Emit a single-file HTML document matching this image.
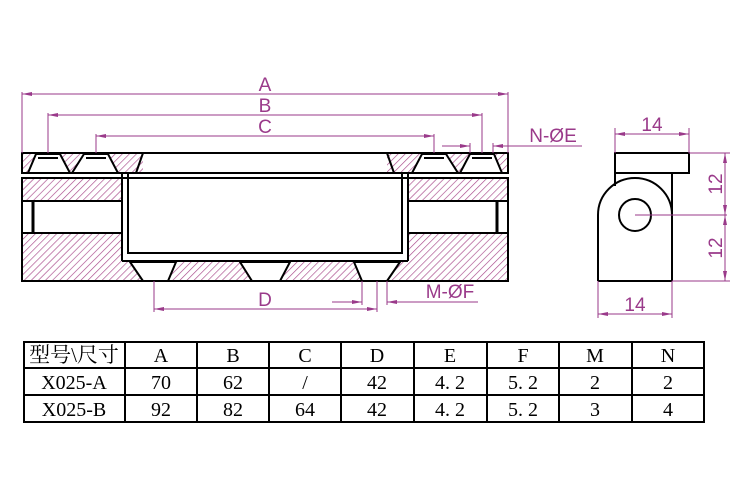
<!DOCTYPE html>
<html><head><meta charset="utf-8"><style>
html,body{margin:0;padding:0;background:#fff;width:750px;height:500px;overflow:hidden}
svg{display:block}
.d{stroke:#9a3a8a;stroke-width:1;fill:none}
.k{stroke:#000;stroke-width:2;fill:none}
.t{fill:#9a3a8a;font-family:"Liberation Sans",sans-serif;font-size:19px}
.tb{font-family:"Liberation Serif","Noto Serif CJK SC",serif;font-size:20px;fill:#000}
</style></head><body>
<svg width="750" height="500" viewBox="0 0 750 500" xmlns="http://www.w3.org/2000/svg">
<defs>
<pattern id="h" patternUnits="userSpaceOnUse" width="5" height="5" patternTransform="rotate(45)">
<line x1="0" y1="0" x2="0" y2="5" stroke="#a8488a" stroke-width="1.3"/>
</pattern>
<marker id="a" viewBox="0 0 10 6" refX="10" refY="3" markerWidth="10" markerHeight="6" orient="auto-start-reverse" markerUnits="userSpaceOnUse">
<path d="M0,1 L10,3 L0,5 Z" fill="#9a3a8a"/>
</marker>
</defs>

<g fill="url(#h)" stroke="none">
<rect x="22" y="153" width="121" height="20"/>
<rect x="387" y="153" width="121" height="20"/>
<rect x="22" y="178" width="100" height="23"/>
<rect x="408" y="178" width="100" height="23"/>
<rect x="22" y="233" width="100" height="48"/>
<rect x="408" y="233" width="100" height="48"/>
<rect x="122" y="261" width="286" height="20"/>
</g>
<g fill="#fff" stroke="#000" stroke-width="2">
<polygon points="36,154 60,154 70,173 28,173" />
<polygon points="84,154 108,154 118,173 72,173" />
<polygon points="494,154 470,154 460,173 502,173" />
<polygon points="446,154 422,154 412,173 458,173" />
<polygon points="130,262 176,262 168,281 143,281" />
<polygon points="240,262 290,262 280,281 252,281" />
<polygon points="354,262 400,262 387,281 362,281" />
</g>
<g class="k" stroke-width="1.5">
<line x1="38" y1="158" x2="58" y2="158"/><line x1="86" y1="158" x2="106" y2="158"/>
<line x1="472" y1="158" x2="492" y2="158"/><line x1="424" y1="158" x2="444" y2="158"/>
</g>
<g class="k">
<rect x="22" y="153" width="486" height="20"/>
<line x1="143" y1="153" x2="136" y2="173"/><line x1="387" y1="153" x2="394" y2="173"/>
<rect x="22" y="178" width="486" height="103"/>
<line x1="22" y1="201" x2="122" y2="201"/><line x1="22" y1="233" x2="122" y2="233"/>
<line x1="408" y1="201" x2="508" y2="201"/><line x1="408" y1="233" x2="508" y2="233"/>
<line x1="33" y1="201" x2="33" y2="233" stroke-width="3"/>
<line x1="497" y1="201" x2="497" y2="233" stroke-width="3"/>
<line x1="122" y1="173" x2="122" y2="261"/><line x1="408" y1="173" x2="408" y2="261"/>
<rect x="128" y="173" width="274" height="80"/>
<line x1="122" y1="261" x2="408" y2="261"/>
</g>
<g class="d">
<line x1="22" y1="92" x2="22" y2="153"/><line x1="508" y1="92" x2="508" y2="153"/>
<line x1="22" y1="94" x2="508" y2="94" marker-start="url(#a)" marker-end="url(#a)"/>
<line x1="48" y1="113" x2="48" y2="153"/><line x1="482" y1="113" x2="482" y2="153"/>
<line x1="48" y1="115" x2="482" y2="115" marker-start="url(#a)" marker-end="url(#a)"/>
<line x1="96" y1="134" x2="96" y2="153"/><line x1="434" y1="134" x2="434" y2="153"/>
<line x1="96" y1="136" x2="434" y2="136" marker-start="url(#a)" marker-end="url(#a)"/>
<line x1="442" y1="146" x2="470" y2="146" marker-end="url(#a)"/>
<line x1="470" y1="143" x2="470" y2="153"/><line x1="493" y1="143" x2="493" y2="153"/>
<line x1="582" y1="146" x2="493" y2="146" marker-end="url(#a)"/>
<line x1="154" y1="281" x2="154" y2="312"/><line x1="377" y1="281" x2="377" y2="312"/>
<line x1="154" y1="309" x2="377" y2="309" marker-start="url(#a)" marker-end="url(#a)"/>
<line x1="362" y1="281" x2="362" y2="305"/><line x1="387" y1="281" x2="387" y2="305"/>
<line x1="332" y1="302" x2="362" y2="302" marker-end="url(#a)"/>
<line x1="478" y1="302" x2="387" y2="302" marker-end="url(#a)"/>
</g>
<text class="t" x="265" y="91" text-anchor="middle">A</text>
<text class="t" x="265" y="112" text-anchor="middle">B</text>
<text class="t" x="265" y="133" text-anchor="middle">C</text>
<text class="t" x="265" y="306" text-anchor="middle">D</text>
<text class="t" x="553" y="142" text-anchor="middle">N-ØE</text>
<text class="t" x="450" y="298" text-anchor="middle">M-ØF</text>

<g class="k">
<rect x="615" y="153" width="74" height="20"/>
<line x1="615" y1="173" x2="615" y2="186"/>
<path d="M598,281 L598,215 A37,37 0 0 1 672,215 L672,173 M672,215 L672,281 Z"/>
<line x1="598" y1="281" x2="672" y2="281"/>
<circle cx="635" cy="215" r="16"/>
</g>
<g class="d">
<line x1="635" y1="215" x2="727" y2="215"/>
<line x1="615" y1="128" x2="615" y2="153"/><line x1="689" y1="128" x2="689" y2="153"/>
<line x1="615" y1="134" x2="689" y2="134" marker-start="url(#a)" marker-end="url(#a)"/>
<line x1="689" y1="153" x2="730" y2="153"/><line x1="672" y1="281" x2="730" y2="281"/>
<line x1="725" y1="153" x2="725" y2="215" marker-start="url(#a)" marker-end="url(#a)"/>
<line x1="725" y1="215" x2="725" y2="281" marker-start="url(#a)" marker-end="url(#a)"/>
<line x1="598" y1="281" x2="598" y2="318"/><line x1="672" y1="281" x2="672" y2="318"/>
<line x1="598" y1="314" x2="672" y2="314" marker-start="url(#a)" marker-end="url(#a)"/>
</g>
<text class="t" x="652" y="131" text-anchor="middle">14</text>
<text class="t" x="635" y="311" text-anchor="middle">14</text>
<text class="t" transform="translate(722,184) rotate(-90)" text-anchor="middle">12</text>
<text class="t" transform="translate(722,248) rotate(-90)" text-anchor="middle">12</text>

<g stroke="#000" stroke-width="2" fill="none">
<rect x="24" y="342" width="680" height="80"/>
<line x1="24" y1="368" x2="704" y2="368"/><line x1="24" y1="395" x2="704" y2="395"/>
<line x1="125" y1="342" x2="125" y2="422"/><line x1="197" y1="342" x2="197" y2="422"/>
<line x1="269" y1="342" x2="269" y2="422"/><line x1="341" y1="342" x2="341" y2="422"/>
<line x1="414" y1="342" x2="414" y2="422"/><line x1="487" y1="342" x2="487" y2="422"/>
<line x1="559" y1="342" x2="559" y2="422"/><line x1="632" y1="342" x2="632" y2="422"/>
</g>
<g class="tb" text-anchor="middle">
<text x="74" y="362" font-size="21">型号\尺寸</text>
<text x="161" y="362">A</text><text x="233" y="362">B</text><text x="305" y="362">C</text><text x="377" y="362">D</text>
<text x="450" y="362">E</text><text x="523" y="362">F</text><text x="595" y="362">M</text><text x="668" y="362">N</text>
<text x="74" y="389">X025-A</text>
<text x="161" y="389">70</text><text x="233" y="389">62</text><text x="305" y="389">/</text><text x="377" y="389">42</text>
<text x="450" y="389">4. 2</text><text x="523" y="389">5. 2</text><text x="595" y="389">2</text><text x="668" y="389">2</text>
<text x="74" y="416">X025-B</text>
<text x="161" y="416">92</text><text x="233" y="416">82</text><text x="305" y="416">64</text><text x="377" y="416">42</text>
<text x="450" y="416">4. 2</text><text x="523" y="416">5. 2</text><text x="595" y="416">3</text><text x="668" y="416">4</text>
</g>
</svg>
</body></html>
